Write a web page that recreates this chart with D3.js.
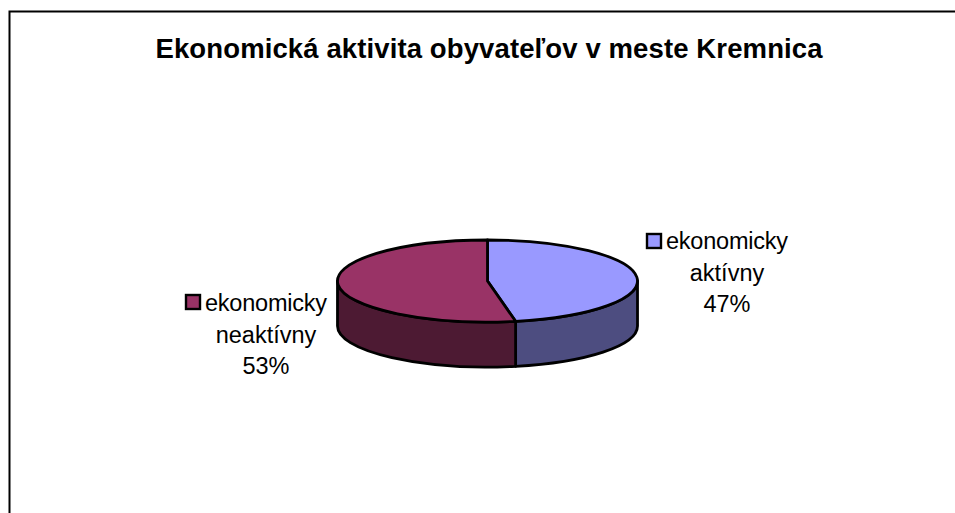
<!DOCTYPE html>
<html>
<head>
<meta charset="utf-8">
<script src="https://cdn.jsdelivr.net/npm/d3@7"></script>
<style>
  html, body { margin: 0; padding: 0; background: #fff; }
  svg { display: block; }
  text { font-family: "Liberation Sans", Arial, sans-serif; fill: #000; }
</style>
</head>
<body>
<svg id="chart" width="955" height="513"></svg>
<script>
const chartTitle = "Ekonomická aktivita obyvateľov v meste Kremnica";
const labelLines = [["ekonomicky", "aktívny"], ["ekonomicky", "neaktívny"]];
const values = [47, 53];
const topColors = ["#9999ff", "#993366"];
const sideColors = ["#4d4d80", "#4d1a33"];

const svg = d3.select("#chart");
const cx = 487.5, cy = 281, rx = 150, ry = 41, depth = 45;

// Chart frame, open on the right and bottom where the page crops it
svg.append("path")
  .attr("d", "M9.5,513V11.5H955")
  .attr("fill", "none").attr("stroke", "#000").attr("stroke-width", 2);

svg.append("text")
  .attr("x", 489).attr("y", 58)
  .attr("text-anchor", "middle")
  .attr("font-size", 27.5).attr("font-weight", "bold")
  .attr("textLength", 667).attr("lengthAdjust", "spacing")
  .text(chartTitle);

// Pie angles run clockwise from twelve o'clock
const slices = d3.pie().sort(null).value(d => d)(values);
const px = a => cx + rx * Math.sin(a);
const py = (a, dy = 0) => cy + dy - ry * Math.cos(a);
const tiltArc = (a0, a1, dy, sweep) =>
  `A${rx},${ry} 0 ${Math.abs(a1 - a0) > Math.PI ? 1 : 0} ${sweep} ${px(a1)},${py(a1, dy)}`;

// Side wall: only the part of each slice that lies on the front half of the rim
const sides = svg.append("g");
slices.forEach((s, i) => {
  const a0 = Math.max(s.startAngle, Math.PI / 2);
  const a1 = Math.min(s.endAngle, Math.PI * 1.5);
  if (a1 <= a0) return;
  sides.append("path")
    .attr("d", `M${px(a0)},${py(a0)}${tiltArc(a0, a1, 0, 1)}L${px(a1)},${py(a1, depth)}${tiltArc(a1, a0, depth, 0)}Z`)
    .attr("fill", sideColors[i])
    .attr("stroke", "#000").attr("stroke-width", 2.8).attr("stroke-linejoin", "round");
});

// Top face
const tops = svg.append("g");
slices.forEach((s, i) => {
  tops.append("path")
    .attr("d", `M${cx},${cy}L${px(s.startAngle)},${py(s.startAngle)}${tiltArc(s.startAngle, s.endAngle, 0, 1)}Z`)
    .attr("fill", topColors[i])
    .attr("stroke", "#000").attr("stroke-width", 2.8).attr("stroke-linejoin", "round");
});

// Data labels with legend keys
const labelPos = [
  { key: [647, 234], x: 727, y: 249 },
  { key: [186, 295], x: 266, y: 311 }
];
const lineGap = 31.5;
labelPos.forEach((p, i) => {
  const g = svg.append("g");
  g.append("rect")
    .attr("x", p.key[0]).attr("y", p.key[1])
    .attr("width", 14).attr("height", 14)
    .attr("fill", topColors[i]).attr("stroke", "#000").attr("stroke-width", 2.4);
  [...labelLines[i], `${values[i]}%`].forEach((t, k) => {
    g.append("text")
      .attr("x", p.x).attr("y", p.y + k * lineGap)
      .attr("text-anchor", "middle")
      .attr("font-size", 23.5)
      .attr("textLength", k === 0 ? 122 : null)
      .attr("lengthAdjust", "spacing")
      .text(t);
  });
});
</script>
</body>
</html>
